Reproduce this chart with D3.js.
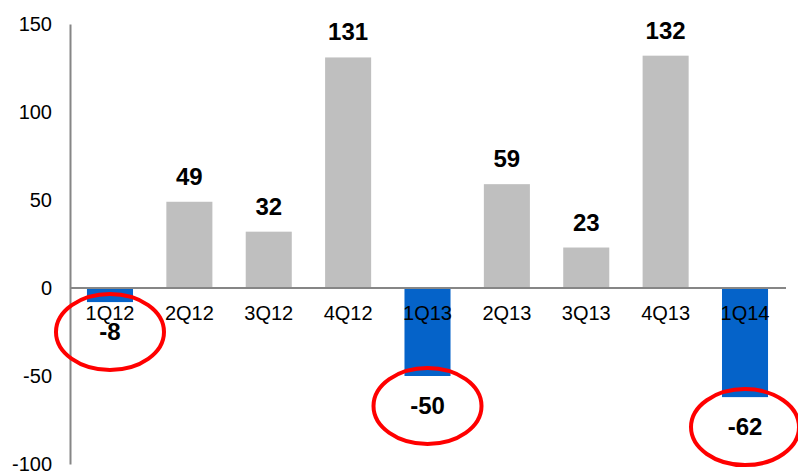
<!DOCTYPE html>
<html>
<head>
<meta charset="utf-8">
<style type="text/css">
	body { margin: 0; background: white; }
	text { font-family: "Liberation Sans", Arial, sans-serif; }
</style>
</head>
<body>
<div id="chart"></div>
<script src="https://d3js.org/d3.v7.min.js"></script>
<script type="text/javascript">
	var quarters = ["1Q12", "2Q12", "3Q12", "4Q12", "1Q13", "2Q13", "3Q13", "4Q13", "1Q14"];
	var values = [-8, 49, 32, 131, -50, 59, 23, 132, -62];
	var circled = ["1Q12", "1Q13", "1Q14"];
	var yTicks = [-100, -50, 0, 50, 100, 150];

	var width = 798, height = 473;

	var x = d3.scaleBand()
		.domain(quarters)
		.range([70.3, 784.7])
		.paddingInner(0.42)
		.paddingOuter(0.21);

	var y = d3.scaleLinear()
		.domain([-100, 150])
		.range([464, 24]);

	var svg = d3.select("#chart").append("svg")
		.attr("width", width)
		.attr("height", height);

	// bars
	svg.selectAll(".bar")
		.data(values)
		.enter()
		.append("rect")
		.attr("class", "bar")
		.attr("x", function(d, i){ return x(quarters[i]); })
		.attr("width", x.bandwidth())
		.attr("y", function(d){ return y(Math.max(0, d)); })
		.attr("height", function(d){ return Math.abs(y(d) - y(0)); })
		.style("fill", function(d){ return d < 0 ? "#0563c9" : "#bfbfbf"; });

	// y axis
	var yAxis = d3.axisLeft(y)
		.tickValues(yTicks)
		.tickFormat(function(d){ return String(d); })
		.tickSize(0)
		.tickPadding(18);
	var gy = svg.append("g")
		.attr("transform", "translate(70,0)")
		.call(yAxis);
	gy.select(".domain").attr("stroke", "#868686").attr("stroke-width", 2);
	gy.selectAll("text")
		.attr("font-size", "20px")
		.attr("font-family", "Liberation Sans, Arial, sans-serif")
		.attr("fill", "black");

	// zero line
	svg.append("line")
		.attr("x1", 70).attr("x2", 786)
		.attr("y1", y(0)).attr("y2", y(0))
		.attr("stroke", "#868686")
		.attr("stroke-width", 2);

	// category labels
	svg.selectAll(".cat")
		.data(quarters)
		.enter()
		.append("text")
		.attr("class", "cat")
		.attr("x", function(d){ return x(d) + x.bandwidth() / 2; })
		.attr("y", y(0) + 32)
		.attr("text-anchor", "middle")
		.attr("font-size", "20px")
		.text(function(d){ return d; });

	// value labels
	function labelY(d){
		return d >= 0 ? y(d) - 17 : y(d) + 38;
	}
	svg.selectAll(".val")
		.data(values)
		.enter()
		.append("text")
		.attr("class", "val")
		.attr("x", function(d, i){ return x(quarters[i]) + x.bandwidth() / 2; })
		.attr("y", labelY)
		.attr("text-anchor", "middle")
		.attr("font-size", "24px")
		.attr("font-weight", "bold")
		.text(function(d){ return d; });

	// red ellipses round the negative quarters
	svg.selectAll(".ring")
		.data(circled)
		.enter()
		.append("ellipse")
		.attr("class", "ring")
		.attr("cx", function(d){ return x(d) + x.bandwidth() / 2; })
		.attr("cy", function(d){ return labelY(values[quarters.indexOf(d)]) - 8; })
		.attr("rx", 54)
		.attr("ry", 38)
		.attr("fill", "none")
		.attr("stroke", "#ff0000")
		.attr("stroke-width", 4);
</script>
</body>
</html>
